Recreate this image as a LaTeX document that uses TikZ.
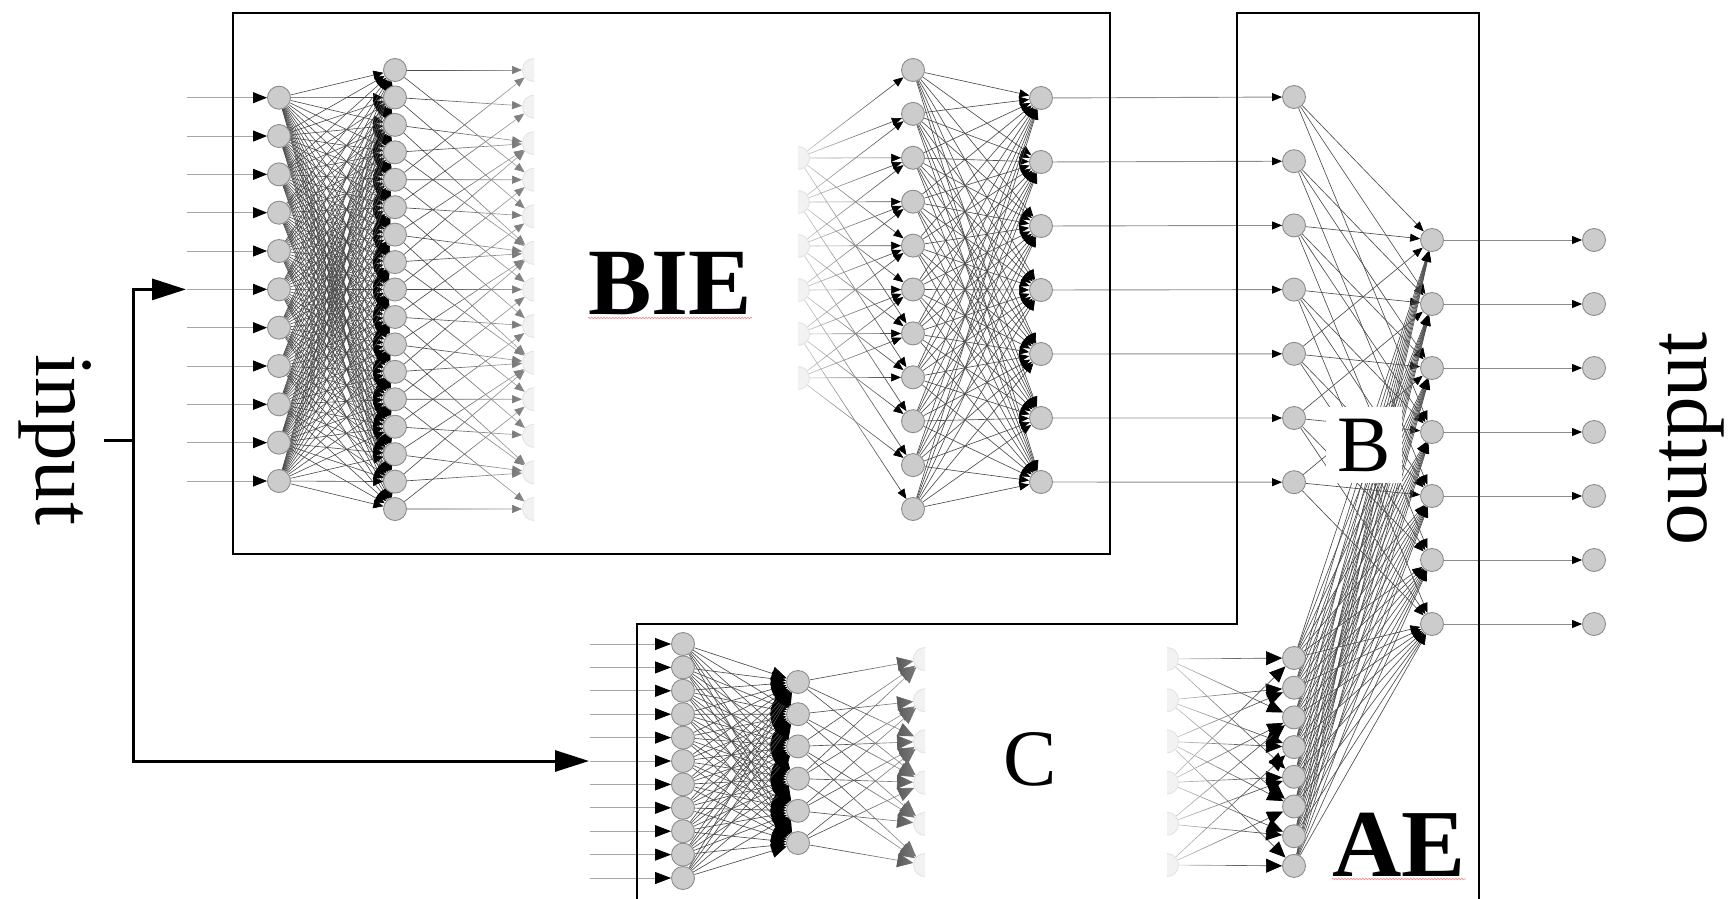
\documentclass[tikz,border=0pt]{standalone}
\usepackage{fontspec}
\setmainfont{Liberation Serif}
\usetikzlibrary{arrows.meta,fadings,decorations.pathmorphing}
\tikzfading[name=fadeinright, left color=transparent!100, right color=transparent!0]
\tikzfading[name=fadeinleft, left color=transparent!0, right color=transparent!100]
\pgfdeclarelayer{edges}
\pgfsetlayers{edges,main}
\tikzset{
  neuron/.style={circle, fill=gray!40, draw=black!45, line width=0.9pt, minimum size=23pt, inner sep=0pt},
  ghost/.style={circle, fill=black!5, draw=black!11, line width=0.9pt, minimum size=23pt, inner sep=0pt},
  frame/.style={draw=black, line width=2.2pt},
  bus/.style={draw=black, line width=3pt},
  bigtip/.style={-{Triangle[length=34pt,width=21pt]}},
  feed/.style={draw=black!35, line width=0.8pt, -{Triangle[length=14pt,width=11pt,color=black]}},
  feedC/.style={draw=black!35, line width=0.8pt, -{Triangle[length=16pt,width=12pt,color=black]}},
  dense/.style={draw=black!72, line width=0.6pt, -{Triangle[length=10pt,width=9pt,color=black]}},
  denseC/.style={draw=black!70, line width=0.65pt, -{Triangle[length=15pt,width=14pt,color=black]}},
  sparse/.style={draw=black!70, line width=0.65pt, -{Triangle[length=10pt,width=8pt,color=black]}},
  sparseC/.style={draw=black!68, line width=0.65pt, -{Triangle[length=16pt,width=14pt,color=black]}},
  link/.style={draw=black!45, line width=0.9pt, -{Triangle[length=10pt,width=8pt,color=black]}},
  spell/.style={draw=red!45, line width=0.7pt, decorate, decoration={snake, amplitude=0.7pt, segment length=3pt}},
  title/.style={inner sep=0pt, font=\fontsize{95}{95}\selectfont\bfseries},
  letter/.style={font=\fontsize{80}{80}\selectfont},
  side/.style={inner sep=0pt, font=\fontsize{83}{83}\selectfont}
}
\begin{document}
\begin{tikzpicture}[x=1pt,y=-1pt]
\useasboundingbox (0,0) rectangle (1729,899);
\clip (0,0) rectangle (1729,899);

% ---------- BIE network ----------
\foreach \i in {0,...,10}{
  \pgfmathsetmacro\yy{97.7+38.33*\i}
  \node[neuron] (bieA-\i) at (279,\yy) {};
  \coordinate (bieIn-\i) at (187,\yy);
}
\foreach \i in {0,...,16}{
  \pgfmathsetmacro\yy{70+27.44*\i}
  \node[neuron] (bieB-\i) at (395,\yy) {};
}
\begin{scope}
  \clip (505,40) rectangle (534,540);
  \foreach \i in {0,...,12}{
    \pgfmathsetmacro\yy{70+36.58*\i}
    \node[ghost] (bieC-\i) at (534,\yy) {};
  }
\end{scope}
\begin{scope}
  \clip (798,100) rectangle (830,420);
  \foreach \i in {0,...,5}{
    \pgfmathsetmacro\yy{158+44*\i}
    \node[ghost] (bieD-\i) at (798,\yy) {};
  }
\end{scope}
\foreach \i in {0,...,10}{
  \pgfmathsetmacro\yy{70+43.9*\i}
  \node[neuron] (bieE-\i) at (913,\yy) {};
}
\foreach \i in {0,...,6}{
  \pgfmathsetmacro\yy{98+64*\i}
  \node[neuron] (bieF-\i) at (1041,\yy) {};
}

% ---------- B network and outputs ----------
\foreach \i in {0,...,6}{
  \pgfmathsetmacro\yy{97+64.2*\i}
  \node[neuron] (bIn-\i) at (1294,\yy) {};
}
\foreach \i in {0,...,6}{
  \pgfmathsetmacro\yy{240+64*\i}
  \node[neuron] (bOut-\i) at (1432,\yy) {};
  \node[neuron] (out-\i) at (1594,\yy) {};
}

% ---------- C network ----------
\foreach \i in {0,...,10}{
  \pgfmathsetmacro\yy{644+23.4*\i}
  \node[neuron] (cA-\i) at (683,\yy) {};
  \coordinate (cIn-\i) at (590,\yy);
}
\foreach \i in {0,...,5}{
  \pgfmathsetmacro\yy{682+32.2*\i}
  \node[neuron] (cB-\i) at (798,\yy) {};
}
\begin{scope}
  \clip (890,630) rectangle (925,899);
  \foreach \i in {0,...,5}{
    \pgfmathsetmacro\yy{659+41.2*\i}
    \node[ghost] (cC-\i) at (925,\yy) {};
  }
\end{scope}

% ---------- AE network ----------
\begin{scope}
  \clip (1167,630) rectangle (1200,899);
  \foreach \i in {0,...,5}{
    \pgfmathsetmacro\yy{659+41.2*\i}
    \node[ghost] (aeA-\i) at (1167,\yy) {};
  }
\end{scope}
\foreach \i in {0,...,7}{
  \pgfmathsetmacro\yy{658+29.7*\i}
  \node[neuron] (aeB-\i) at (1294,\yy) {};
}

% ---------- connections ----------
\begin{pgfonlayer}{edges}
  \foreach \i in {0,...,10} \draw[feed] (bieIn-\i) -- (bieA-\i);
  \foreach \i in {0,...,10}{\foreach \j in {0,...,16} \draw[dense] (bieA-\i) -- (bieB-\j);}
  \foreach \i in {0,...,16}{
    \pgfmathtruncatemacro\jz{round(\i*0.75)}
    \foreach \d in {-3,0,3}{
      \pgfmathtruncatemacro\j{\jz+\d}
      \ifnum\j>-1 \ifnum\j<13 \draw[sparse] (bieB-\i) -- (bieC-\j);\fi\fi
    }
  }
  \foreach \k in {0,...,5}{
    \foreach \d in {-2,-1,0,2,4}{
      \pgfmathtruncatemacro\j{\k+2+\d}
      \ifnum\j>-1 \ifnum\j<11 \draw[sparse] (bieD-\k) -- (bieE-\j);\fi\fi
    }
  }
  \foreach \i in {0,...,10}{\foreach \j in {0,...,6} \draw[sparse] (bieE-\i) -- (bieF-\j);}
  \foreach \i in {0,...,6} \draw[link] (bieF-\i) -- (bIn-\i);
  \foreach \i in {0,...,6}{
    \foreach \d in {-4,-2,0,1,3}{
      \pgfmathtruncatemacro\j{\i+\d}
      \ifnum\j>-1 \ifnum\j<7 \draw[sparse] (bIn-\i) -- (bOut-\j);\fi\fi
    }
  }
  \foreach \i in {0,...,6} \draw[link] (bOut-\i) -- (out-\i);

  \foreach \i in {0,...,10} \draw[feedC] (cIn-\i) -- (cA-\i);
  \foreach \i in {0,...,10}{\foreach \j in {0,...,5} \draw[denseC] (cA-\i) -- (cB-\j);}
  \foreach \i in {0,...,5}{
    \foreach \d in {-3,-2,0,2,3}{
      \pgfmathtruncatemacro\j{\i+\d}
      \ifnum\j>-1 \ifnum\j<6 \draw[sparseC] (cB-\i) -- (cC-\j);\fi\fi
    }
  }
  \foreach \k in {0,...,5}{
    \pgfmathtruncatemacro\jz{round(\k*1.4)}
    \foreach \d in {-4,-2,0,2,4}{
      \pgfmathtruncatemacro\j{\jz+\d}
      \ifnum\j>-1 \ifnum\j<8 \draw[sparseC] (aeA-\k) -- (aeB-\j);\fi\fi
    }
  }
  \foreach \i in {0,...,7}{\foreach \j in {0,...,6} \draw[sparse] (aeB-\i) -- (bOut-\j);}

  % connections fade out towards the cut layers
  \fill[white, fill opacity=0.6, path fading=fadeinright] (430,45) rectangle (534,535);
  \fill[white, fill opacity=0.75, path fading=fadeinleft] (798,45) rectangle (890,535);
  \fill[white, fill opacity=0.55, path fading=fadeinright] (845,640) rectangle (925,895);
  \fill[white, fill opacity=0.75, path fading=fadeinleft] (1167,640) rectangle (1250,895);
\end{pgfonlayer}

% ---------- frames ----------
\draw[frame] (233,13) rectangle (1110,554);
\draw[frame] (637,905) -- (637,624) -- (1237,624) -- (1237,13) -- (1479,13) -- (1479,905);

% ---------- input bus ----------
\coordinate (stub) at (104,440);
\coordinate (fork) at (133,440);
\coordinate (tipT) at (186,289.4);
\coordinate (tipB) at (589,761);
\draw[bus] (stub) -- (fork);
\draw[bus, bigtip] (fork) |- (tipT);
\draw[bus, bigtip] (fork) |- (tipB);

% ---------- labels ----------
\node[title, anchor=base west] (bieText) at (588,314) {BIE};
\draw[spell] ([yshift=-4pt]bieText.base west) -- ([yshift=-4pt]bieText.base east);
\node[title, font=\fontsize{96}{96}\selectfont\bfseries, anchor=base west] (aeText) at (1332,876) {AE};
\draw[spell] ([yshift=-3pt]aeText.base west) -- ([yshift=-3pt]aeText.base east);
\node[letter, fill=white, inner xsep=11pt, inner ysep=12pt, anchor=base] (bText) at (1364,471) {B};
\node[letter, inner sep=0pt, anchor=base] (cText) at (1030,785) {C};
\node[side, rotate=-90, anchor=base] (inText) at (36,440) {input};
\node[side, rotate=90, anchor=base] (outText) at (1706,439) {output};
\end{tikzpicture}
\end{document}
